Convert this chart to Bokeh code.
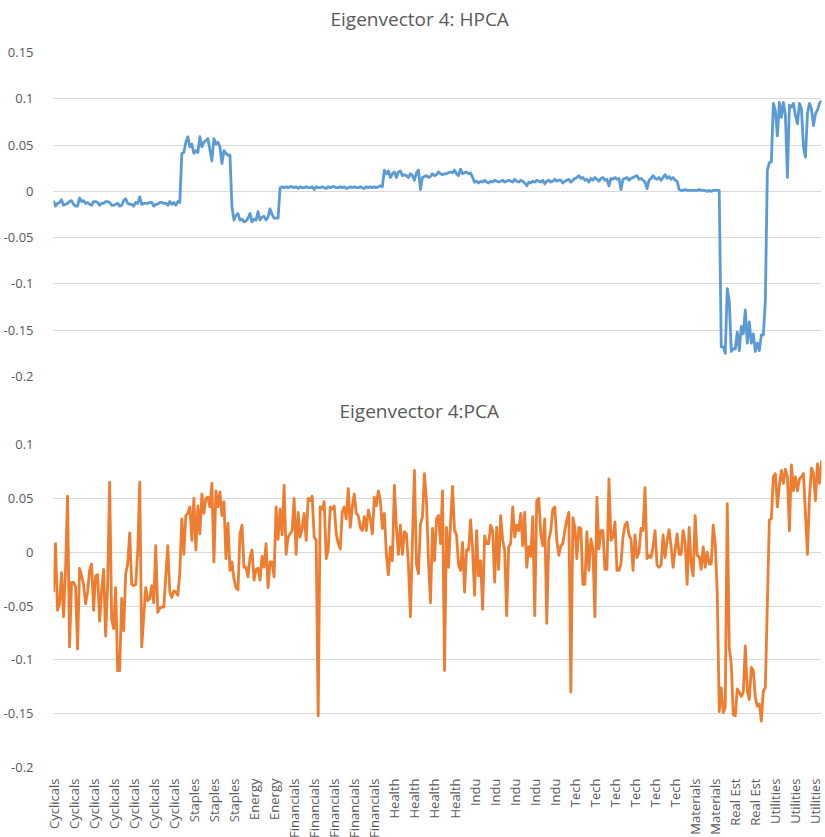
import math
from bokeh.plotting import figure
from bokeh.models import FixedTicker, Range1d, Title
from bokeh.layouts import column
from bokeh.embed import file_html
from bokeh.resources import INLINE

# ---------------- data ----------------
hpca = [
    -0.010, -0.016, -0.013, -0.012, -0.009, -0.015, -0.014, -0.013, -0.011, -0.010,
    -0.014, -0.016, -0.016, -0.007, -0.011, -0.010, -0.013, -0.012, -0.014, -0.015,
    -0.011, -0.011, -0.012, -0.015, -0.013, -0.013, -0.011, -0.011, -0.012, -0.015,
    -0.015, -0.014, -0.013, -0.016, -0.015, -0.010, -0.008, -0.013, -0.014, -0.014,
    -0.016, -0.012, -0.013, -0.006, -0.014, -0.013, -0.013, -0.013, -0.012, -0.012,
    -0.016, -0.014, -0.014, -0.012, -0.012, -0.013, -0.013, -0.015, -0.011, -0.014,
    -0.012, -0.015, -0.011, -0.012,
    0.041, 0.042, 0.053, 0.059, 0.048, 0.051,
    0.041, 0.044, 0.042, 0.059, 0.048, 0.053, 0.055, 0.057, 0.045, 0.033,
    0.057, 0.051, 0.053, 0.048, 0.030, 0.044, 0.041, 0.039, 0.039,
    -0.017,
    -0.031, -0.026, -0.024, -0.031, -0.030, -0.033, -0.032, -0.029, -0.024, -0.033,
    -0.030, -0.031, -0.022, -0.031, -0.028, -0.027, -0.031, -0.028, -0.019, -0.025,
    -0.029, -0.029, -0.029,
    0.004, 0.005, 0.004, 0.005, 0.004, 0.005, 0.005,
    0.004, 0.005, 0.003, 0.005, 0.004, 0.004, 0.005, 0.004, 0.004, 0.005,
    0.002, 0.005, 0.004, 0.004, 0.005, 0.004, 0.003, 0.005, 0.004, 0.005,
    0.005, 0.004, 0.004, 0.005, 0.004, 0.005, 0.003, 0.004, 0.005, 0.004,
    0.005, 0.004, 0.004, 0.005, 0.004, 0.003, 0.005, 0.004, 0.005, 0.004,
    0.005, 0.004, 0.005, 0.006, 0.005,
    0.023, 0.019, 0.022, 0.015, 0.019,
    0.021, 0.015, 0.021, 0.022, 0.017, 0.018, 0.017, 0.015, 0.019, 0.017,
    0.012, 0.020, 0.023, 0.002, 0.015, 0.016, 0.017, 0.015, 0.016, 0.019,
    0.017, 0.018, 0.021, 0.019, 0.018, 0.019, 0.019, 0.020, 0.021, 0.020,
    0.023, 0.019, 0.017, 0.024, 0.019, 0.020, 0.021, 0.019, 0.020, 0.015,
    0.010, 0.011, 0.009, 0.011, 0.010, 0.012, 0.010, 0.009, 0.011, 0.010,
    0.012, 0.011, 0.010, 0.011, 0.012, 0.010, 0.011, 0.012, 0.011, 0.010,
    0.013, 0.011, 0.010, 0.012, 0.011, 0.009, 0.006, 0.010, 0.009, 0.011,
    0.010, 0.012, 0.011, 0.010, 0.012, 0.008, 0.011, 0.012, 0.010, 0.011,
    0.013, 0.011, 0.012, 0.012, 0.009, 0.011, 0.012, 0.013, 0.010, 0.012,
    0.014, 0.015, 0.017, 0.014, 0.015, 0.012, 0.013, 0.010, 0.014, 0.012,
    0.015, 0.013, 0.011, 0.014, 0.015, 0.012, 0.013, 0.006, 0.014, 0.013,
    0.015, 0.013, 0.014, 0.002, 0.013, 0.014, 0.015, 0.012, 0.014, 0.015,
    0.016, 0.017, 0.013, 0.014, 0.012, 0.010, 0.003, 0.012, 0.014, 0.017,
    0.014, 0.013, 0.015, 0.012, 0.015, 0.018, 0.014, 0.016, 0.013, 0.015,
    0.012, 0.011,
    0.002, 0.001, 0.001, 0.002, 0.001, 0.001, 0.001, 0.001,
    0.001, 0.001, 0.002, 0.001, 0.001, 0.001, 0.000, 0.001, 0.000, 0.001,
    0.001, 0.001, 0.001,
    -0.168, -0.168, -0.175, -0.105, -0.118, -0.173, -0.170,
    -0.170, -0.152, -0.172, -0.146, -0.154, -0.128, -0.164, -0.141, -0.164, -0.154,
    -0.173, -0.164, -0.172, -0.155, -0.155, -0.118,
    0.023, 0.031, 0.032, 0.095,
    0.087, 0.060, 0.096, 0.080, 0.096, 0.082, 0.015, 0.093, 0.091, 0.095,
    0.082, 0.073, 0.095, 0.089, 0.048, 0.037, 0.084, 0.095, 0.089, 0.071,
    0.084, 0.088, 0.095, 0.098,
]

pca = [
    -0.037, 0.008, -0.054, -0.048, -0.019, -0.060, -0.017, 0.052, -0.088, -0.028,
    -0.028, -0.032, -0.090, -0.015, -0.022, -0.030, -0.048, -0.037, -0.017, -0.011,
    -0.054, -0.022, -0.021, -0.064, -0.036, -0.016, -0.078, -0.030, 0.065, -0.062,
    -0.071, -0.033, -0.110, -0.110, -0.043, -0.073, -0.020, -0.011, 0.018, -0.030,
    -0.031, -0.030, 0.000, 0.065, -0.088, -0.060, -0.033, -0.045, -0.043, -0.031,
    -0.047, 0.006, -0.056, -0.052, -0.051, -0.051, -0.022, 0.006, -0.037, -0.042,
    -0.036, -0.037, -0.040, -0.019, 0.031, -0.002, 0.034, 0.036, 0.042, 0.011,
    0.050, 0.002, 0.043, 0.017, 0.054, 0.036, 0.050, 0.051, 0.042, 0.064,
    -0.009, 0.057, 0.042, 0.056, 0.034, 0.047, -0.006, 0.027, -0.017, -0.009,
    -0.025, -0.033, -0.035, 0.017, 0.025, -0.014, -0.014, -0.023, -0.005, 0.002,
    -0.026, -0.016, -0.015, -0.026, -0.004, -0.014, 0.008, -0.033, -0.009, -0.009,
    -0.023, 0.042, 0.012, 0.040, 0.016, 0.062, -0.002, 0.014, 0.017, 0.020,
    0.050, -0.002, 0.037, 0.014, 0.022, 0.036, 0.011, 0.050, 0.048, 0.052,
    0.014, 0.011, -0.152, 0.042, 0.040, 0.047, -0.006, 0.002, 0.042, 0.040,
    0.043, 0.017, 0.008, 0.003, 0.037, 0.042, 0.031, 0.059, 0.023, 0.042,
    0.054, 0.036, 0.034, 0.023, 0.020, 0.033, 0.020, 0.039, 0.031, 0.017,
    0.051, 0.043, 0.057, 0.048, 0.022, 0.036, -0.002, -0.021, 0.005, -0.008,
    0.062, 0.023, -0.002, 0.025, -0.002, 0.019, 0.017, -0.011, -0.060, 0.011,
    0.076, -0.011, -0.020, 0.026, 0.033, 0.073, 0.048, -0.008, -0.047, 0.022,
    -0.008, 0.031, 0.034, 0.008, 0.057, -0.110, 0.023, -0.014, 0.026, 0.061,
    0.020, 0.016, -0.012, -0.017, 0.009, -0.037, 0.002, 0.002, 0.030, 0.002,
    -0.040, 0.020, -0.022, -0.008, -0.053, 0.015, 0.008, 0.008, 0.025, 0.020,
    -0.028, 0.023, -0.016, 0.034, 0.011, 0.002, -0.059, 0.005, 0.008, 0.042,
    0.014, 0.025, 0.020, 0.036, 0.006, 0.037, -0.014, 0.005, -0.004, 0.033,
    -0.059, 0.048, 0.050, 0.017, 0.006, 0.031, -0.066, 0.011, 0.020, 0.040,
    0.042, 0.011, -0.003, 0.006, 0.008, 0.020, 0.030, 0.037, -0.130, 0.032,
    0.023, -0.006, 0.023, 0.022, -0.030, -0.030, 0.019, -0.017, 0.012, 0.003,
    -0.060, 0.051, 0.003, 0.020, 0.020, -0.016, -0.016, 0.068, 0.011, 0.014,
    0.028, -0.017, -0.017, -0.011, 0.014, 0.025, 0.028, 0.016, 0.012, -0.017,
    0.016, -0.005, 0.000, 0.022, 0.020, 0.060, -0.006, -0.003, -0.005, 0.005,
    0.020, -0.012, -0.014, -0.012, 0.016, -0.005, 0.011, 0.021, 0.005, -0.014,
    0.002, 0.017, -0.002, -0.002, 0.020, 0.008, -0.030, 0.023, -0.011, -0.022,
    0.034, -0.003, -0.004, -0.016, 0.005, -0.014, 0.000, -0.011, -0.011, 0.025,
    0.008, -0.037, -0.148, -0.126, -0.149, -0.144, 0.045, -0.089, -0.104, -0.151,
    -0.152, -0.127, -0.130, -0.134, -0.130, -0.087, -0.129, -0.137, -0.107, -0.110,
    -0.135, -0.143, -0.141, -0.157, -0.129, -0.126, -0.048, 0.030, 0.031, 0.070,
    0.073, 0.042, 0.062, 0.076, 0.064, 0.077, 0.070, 0.020, 0.081, 0.057,
    0.070, 0.057, 0.068, 0.070, 0.073, 0.036, -0.002, 0.051, 0.078, 0.073,
    0.048, 0.082, 0.064, 0.085,
]

x_labels = [
    "Cyclicals", "Cyclicals", "Cyclicals", "Cyclicals", "Cyclicals", "Cyclicals", "Cyclicals",
    "Staples", "Staples", "Staples",
    "Energy", "Energy",
    "Financials", "Financials", "Financials", "Financials", "Financials",
    "Health", "Health", "Health", "Health",
    "Indu", "Indu", "Indu", "Indu", "Indu",
    "Tech", "Tech", "Tech", "Tech", "Tech", "Tech",
    "Materials", "Materials",
    "Real Est", "Real Est",
    "Utilities", "Utilities", "Utilities",
]
x_label_every = 10

hpca_ticks = [-0.2, -0.15, -0.1, -0.05, 0, 0.05, 0.1, 0.15]
hpca_tick_labels = ["-0.2", "-0.15", "-0.1", "-0.05", "0", "0.05", "0.1", "0.15"]
pca_ticks = [-0.2, -0.15, -0.1, -0.05, 0, 0.05, 0.1]
pca_tick_labels = ["-0.2", "-0.15", "-0.1", "-0.05", "0", "0.05", "0.1"]

# ---------------- style ----------------
FONT = "Open Sans"
GRAY = "#595959"
GRID = "#d9d9d9"
FRAME_W = 768


def make_panel(title, title_offset, y, color, ticks, tick_labels, frame_h,
               border_top, border_bottom, show_x):
    n = len(y)
    p = figure(frame_width=FRAME_W, frame_height=frame_h,
               output_backend="svg", toolbar_location=None,
               x_range=Range1d(0, n - 1), y_range=Range1d(ticks[0], ticks[-1]),
               min_border_left=51, min_border_right=6,
               min_border_top=border_top, min_border_bottom=border_bottom)
    p.line(x=list(range(n)), y=y, line_color=color, line_width=2.8, line_join="round")

    # spacer panel between frame and title (nearest the frame), then the title
    p.add_layout(Title(text=" ", text_font_size="2px", standoff=17), "above")
    p.add_layout(Title(text=title, text_font=FONT, text_font_size="19px",
                       text_font_style="normal", text_color=GRAY,
                       align="left", offset=title_offset, standoff=0), "above")

    p.outline_line_color = None
    p.xgrid.visible = False
    p.ygrid.ticker = FixedTicker(ticks=ticks)
    p.ygrid.grid_line_color = GRID
    p.ygrid.grid_line_width = 1

    ya = p.yaxis[0]
    ya.ticker = FixedTicker(ticks=ticks)
    ya.major_label_overrides = dict(zip(ticks, tick_labels))
    ya.axis_line_color = None
    ya.major_tick_line_color = None
    ya.minor_tick_line_color = None
    ya.major_label_text_color = GRAY
    ya.major_label_text_font = FONT
    ya.major_label_text_font_size = "13px"
    ya.major_label_standoff = 14

    xa = p.xaxis[0]
    if show_x:
        pos = [i * x_label_every for i in range(len(x_labels))]
        xa.ticker = FixedTicker(ticks=pos)
        xa.major_label_overrides = dict(zip(pos, x_labels))
        xa.major_label_orientation = math.pi / 2
        xa.axis_line_color = None
        xa.major_tick_line_color = None
        xa.minor_tick_line_color = None
        xa.major_label_text_color = GRAY
        xa.major_label_text_font = FONT
        xa.major_label_text_font_size = "13px"
        xa.major_label_standoff = 5
    else:
        xa.visible = False
    return p


p1 = make_panel("Eigenvector 4: HPCA", 277, hpca, "#5B9BD5", hpca_ticks, hpca_tick_labels,
                frame_h=324, border_top=52, border_bottom=14, show_x=False)
p2 = make_panel("Eigenvector 4:PCA", 286, pca, "#ED7D31", pca_ticks, pca_tick_labels,
                frame_h=323, border_top=54, border_bottom=60, show_x=True)

layout = column(p1, p2, spacing=0)
open("out.html", "w").write(file_html(layout, INLINE))
